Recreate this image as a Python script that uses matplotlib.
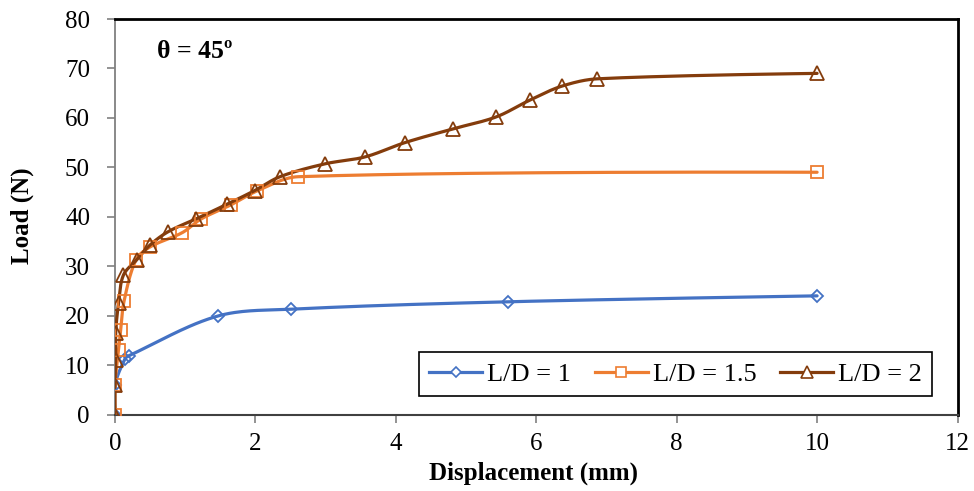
import numpy as np
import matplotlib
matplotlib.use("Agg")
import matplotlib.pyplot as plt

# values
ld1_x = [0, 0, 0.14, 0.2, 1.46, 2.51, 5.6, 10]
ld1_y = [0, 5.9, 11.2, 11.9, 19.9, 21.3, 22.8, 24.0]

ld15_x = [0, 0, 0.05, 0.08, 0.13, 0.3, 0.5, 0.96, 1.22, 1.65, 2.02, 2.61, 10]
ld15_y = [0, 5.9, 13.1, 17.0, 23.0, 31.3, 33.9, 36.8, 39.5, 42.4, 45.2, 48.1, 49.0]

ld2_x = [0, 0, 0.01, 0.01, 0.05, 0.12, 0.31, 0.5, 0.76, 1.16, 1.59, 1.99, 2.35,
         2.99, 3.56, 4.13, 4.82, 5.43, 5.91, 6.36, 6.87, 10]
ld2_y = [0, 5.9, 11.0, 16.5, 22.5, 28.2, 31.3, 34.3, 37.0, 39.6, 42.5, 45.3, 48.1,
         50.7, 52.1, 55.0, 57.8, 60.2, 63.6, 66.4, 67.9, 69.0]

labels = ["L/D = 1", "L/D = 1.5", "L/D = 2"]
colors = ["#4472C4", "#ED7D31", "#843C0C"]
markers = ["D", "s", "^"]
msizes = [6.5, 9, 9.5]

FONT = "Liberation Serif"

# pixel size of one data unit, used so the smoothing happens in screen space
SX, SY = 70.2, 4.94


def smooth(x, y, n=30):
    """Smoothed line through the points (Bezier, tangents scaled by segment length)."""
    p = np.column_stack([np.asarray(x, float) * SX, np.asarray(y, float) * SY])
    m = len(p)
    d = np.r_[np.hypot(*np.diff(p, axis=0).T), 0]
    out = [p[0]]
    t = np.linspace(0, 1, n)[1:, None]
    for i in range(m - 1):
        p1, p2 = p[i], p[i + 1]
        L = d[i]
        if i > 0:
            tan = p2 - p[i - 1]
            den = d[i - 1] + d[i]
            c1 = p1 + tan * (L / den / 3 if den else 0)
        else:
            c1 = p1
        if i + 2 < m:
            tan = p[i + 2] - p1
            den = d[i] + d[i + 1]
            c2 = p2 - tan * (L / den / 3 if den else 0)
        else:
            c2 = p2
        seg = ((1 - t) ** 3) * p1 + 3 * ((1 - t) ** 2) * t * c1 \
            + 3 * (1 - t) * t ** 2 * c2 + t ** 3 * p2
        out.extend(seg)
    out = np.array(out)
    return out[:, 0] / SX, out[:, 1] / SY


fig = plt.figure(figsize=(9.74, 4.91), dpi=100)
ax = fig.add_axes([115 / 974, 1 - 414.5 / 491, 842.5 / 974, 395.5 / 491])

series = [(ld1_x, ld1_y), (ld15_x, ld15_y), (ld2_x, ld2_y)]
handles = []
for (x, y), lab, c, m, ms in zip(series, labels, colors, markers, msizes):
    sx, sy = smooth(x, y)
    ax.plot(sx, sy, color=c, lw=2.3, solid_capstyle="round", zorder=3)
    ax.plot(x, y, ls="none", marker=m, ms=ms, mfc="none", mec=c, mew=1.3, zorder=4)
    h, = ax.plot([], [], color=c, lw=2.3, marker=m, ms=ms * 0.85, mfc="white",
                 mec=c, mew=1.2)
    handles.append(h)

ax.set_xlim(0, 12)
ax.set_ylim(0, 80)
ax.set_xticks(range(0, 13, 2))
ax.set_yticks(range(0, 81, 10))

for side in ["top", "right"]:
    ax.spines[side].set_color("black")
    ax.spines[side].set_linewidth(2)
ax.spines["left"].set_color("#808080")
ax.spines["left"].set_linewidth(1.3)
ax.spines["bottom"].set_color("#404040")
ax.spines["bottom"].set_linewidth(1.5)

ax.tick_params(axis="both", direction="out", length=6, width=1.2, color="#808080",
               labelsize=18)
ax.tick_params(axis="y", pad=12)
ax.tick_params(axis="x", pad=7)
for lbl in ax.get_xticklabels() + ax.get_yticklabels():
    lbl.set_fontfamily(FONT)

fig.text(533.5 / 974, 1 - 473 / 491, "Displacement (mm)", ha="center", va="center",
         fontsize=18, fontweight="bold", family=FONT)
fig.text(22 / 974, 1 - 216 / 491, "Load (N)", ha="center", va="center",
         rotation=90, fontsize=18, fontweight="bold", family=FONT)
fig.text(157 / 974, 1 - 52 / 491, "θ = 45º", ha="left", va="center",
         fontsize=18.5, fontweight="bold", family=FONT)

leg = ax.legend(handles, labels, ncol=3, loc="lower right",
                bbox_to_anchor=(0.970, 0.047), borderaxespad=0, fancybox=False,
                framealpha=1, edgecolor="black", handlelength=2.0,
                handletextpad=0.2, columnspacing=0.9, borderpad=0.38,
                prop={"family": FONT, "size": 19})
leg.get_frame().set_linewidth(1.2)

fig.savefig("out.png", dpi=100)
